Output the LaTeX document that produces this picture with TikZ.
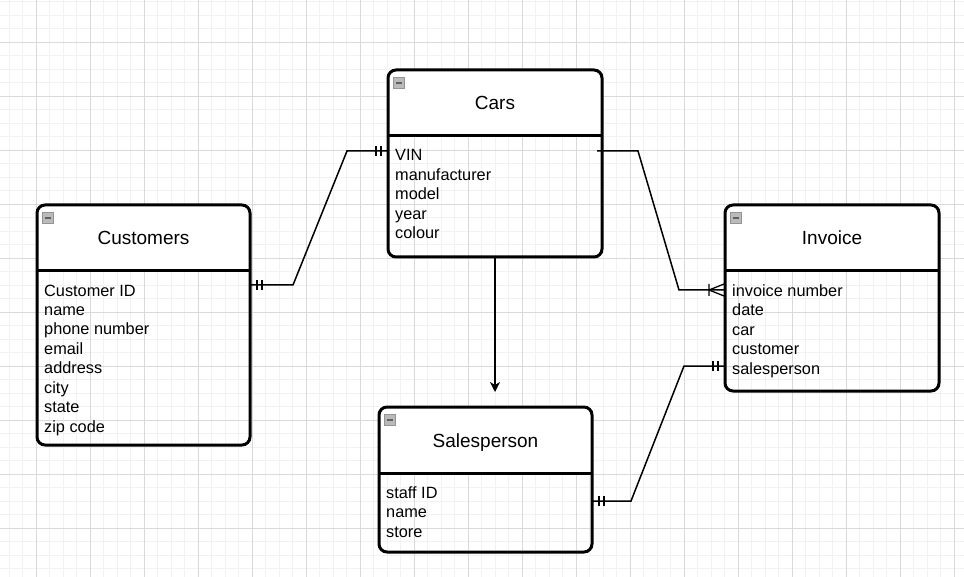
\documentclass[tikz,border=0pt]{standalone}
\usepackage{fontspec}
\setmainfont{Liberation Sans}
\usetikzlibrary{arrows.meta,decorations.markings}

\begin{document}
\begin{tikzpicture}[
        %Environment config
        x=1pt, y=-1pt,
        %Environment styles
        MinorGrid/.style={draw=black!5, line width=0.7pt},
        MajorGrid/.style={draw=black!15, line width=0.8pt},
        IconCfg/.style={fill=black!27, draw=black!42, line width=0.8pt, sharp corners},
        TableCfg/.style={
            draw, line width=3pt, rounded corners=8pt,
            inner sep=0pt, outer sep=0pt,
            path picture={
                \fill[white, sharp corners] (path picture bounding box.north west)
                    rectangle ([yshift=-66pt]path picture bounding box.north east);
                \draw[line width=3pt] ([yshift=-66pt]path picture bounding box.north west)
                    -- ([yshift=-66pt]path picture bounding box.north east);
                \filldraw[IconCfg] ([xshift=5pt,yshift=-7.5pt]path picture bounding box.north west)
                    rectangle ++(11.5pt,-10.5pt);
                \draw[line width=1.6pt, draw=black!62]
                    ([xshift=7.5pt,yshift=-12.75pt]path picture bounding box.north west) -- ++(6.5pt,0pt);
            }
        },
        TitleCfg/.style={font=\fontsize{19pt}{23pt}\selectfont, inner sep=0pt, anchor=base},
        AttrCfg/.style={
            font=\fontsize{16.3pt}{19.45pt}\selectfont,
            align=left, inner sep=0pt, anchor=north west
        },
        RelCfg/.style={line width=1.5pt, draw=black},
        OneStart/.style={postaction={decorate, decoration={markings,
            mark=at position 7pt with {\draw[line width=1.3pt] (0pt,-5pt) -- (0pt,5pt);},
            mark=at position 12pt with {\draw[line width=1.3pt] (0pt,-5pt) -- (0pt,5pt);}}}},
        OneEnd/.style={postaction={decorate, decoration={markings,
            mark=at position -7pt with {\draw[line width=1.3pt] (0pt,-5pt) -- (0pt,5pt);},
            mark=at position -12pt with {\draw[line width=1.3pt] (0pt,-5pt) -- (0pt,5pt);}}}},
        ManyEnd/.style={postaction={decorate, decoration={markings,
            mark=at position -16pt with {\draw[line width=1.3pt] (0pt,-6pt) -- (0pt,6pt)
                (0pt,0pt) -- (15pt,-6pt) (0pt,0pt) -- (15pt,6pt);}}}}
    ]
    \fill[white] (0,0) rectangle (964,577);
    \useasboundingbox (0,0) rectangle (964,577);

    %grid
    \foreach \k in {0,...,70}
        \draw[MinorGrid] (9+13.5*\k,0) -- ++(0,577);
    \foreach \k in {0,...,42}
        \draw[MinorGrid] (0,1.5+13.5*\k) -- ++(964,0);
    \foreach \k in {0,...,17}
        \draw[MajorGrid] (36+54*\k,0) -- ++(0,577);
    \foreach \k in {0,...,9}
        \draw[MajorGrid] (0,42+54*\k) -- ++(964,0);

    %tables
    \node[TableCfg, minimum width=214pt, minimum height=187pt] (CARS) at (495,163.5) {};
    \node[TableCfg, minimum width=213pt, minimum height=240pt] (CUST) at (143.5,325) {};
    \node[TableCfg, minimum width=214pt, minimum height=186pt] (INV) at (832,298) {};
    \node[TableCfg, minimum width=213pt, minimum height=145pt] (SALES) at (485.5,479.5) {};

    \node[TitleCfg] (CARS-T) at ([yshift=-39.5pt]CARS.north) {Cars};
    \node[TitleCfg] (CUST-T) at ([yshift=-40pt]CUST.north) {Customers};
    \node[TitleCfg] (INV-T) at ([yshift=-40pt]INV.north) {Invoice};
    \node[TitleCfg] (SALES-T) at ([yshift=-40.5pt]SALES.north) {Salesperson};

    \node[AttrCfg] (CARS-A) at ([xshift=7pt,yshift=-79.5pt]CARS.north west)
        {VIN\\manufacturer\\model\\year\\colour};
    \node[AttrCfg] (CUST-A) at ([xshift=7pt,yshift=-79.5pt]CUST.north west)
        {Customer ID\\name\\phone number\\email\\address\\city\\state\\zip code};
    \node[AttrCfg] (INV-A) at ([xshift=7pt,yshift=-79.5pt]INV.north west)
        {invoice number\\date\\car\\customer\\salesperson};
    \node[AttrCfg] (SALES-A) at ([xshift=7pt,yshift=-79.5pt]SALES.north west)
        {staff ID\\name\\store};

    %relations
    \draw[RelCfg, OneStart, OneEnd]
        ([yshift=-80pt]CUST.north east) -- ++(43,0)
        -- ([xshift=-41pt,yshift=-81pt]CARS.north west)
        -- ([yshift=-81pt]CARS.north west);
    \draw[RelCfg, ManyEnd]
        ([xshift=-5pt,yshift=-81pt]CARS.north east) -- ++(41,0)
        -- ([xshift=-46pt,yshift=-85pt]INV.north west)
        -- ([yshift=-85pt]INV.north west);
    \draw[RelCfg, OneStart, OneEnd]
        ([yshift=-94pt]SALES.north east) -- ++(39,0)
        -- ([xshift=-41pt,yshift=-161pt]INV.north west)
        -- ([yshift=-161pt]INV.north west);
    \draw[RelCfg, -{Stealth[length=10pt,width=10pt,inset=3pt]}, shorten >=15pt]
        (CARS.south) -- (CARS.south |- SALES.north);
\end{tikzpicture}
\end{document}
